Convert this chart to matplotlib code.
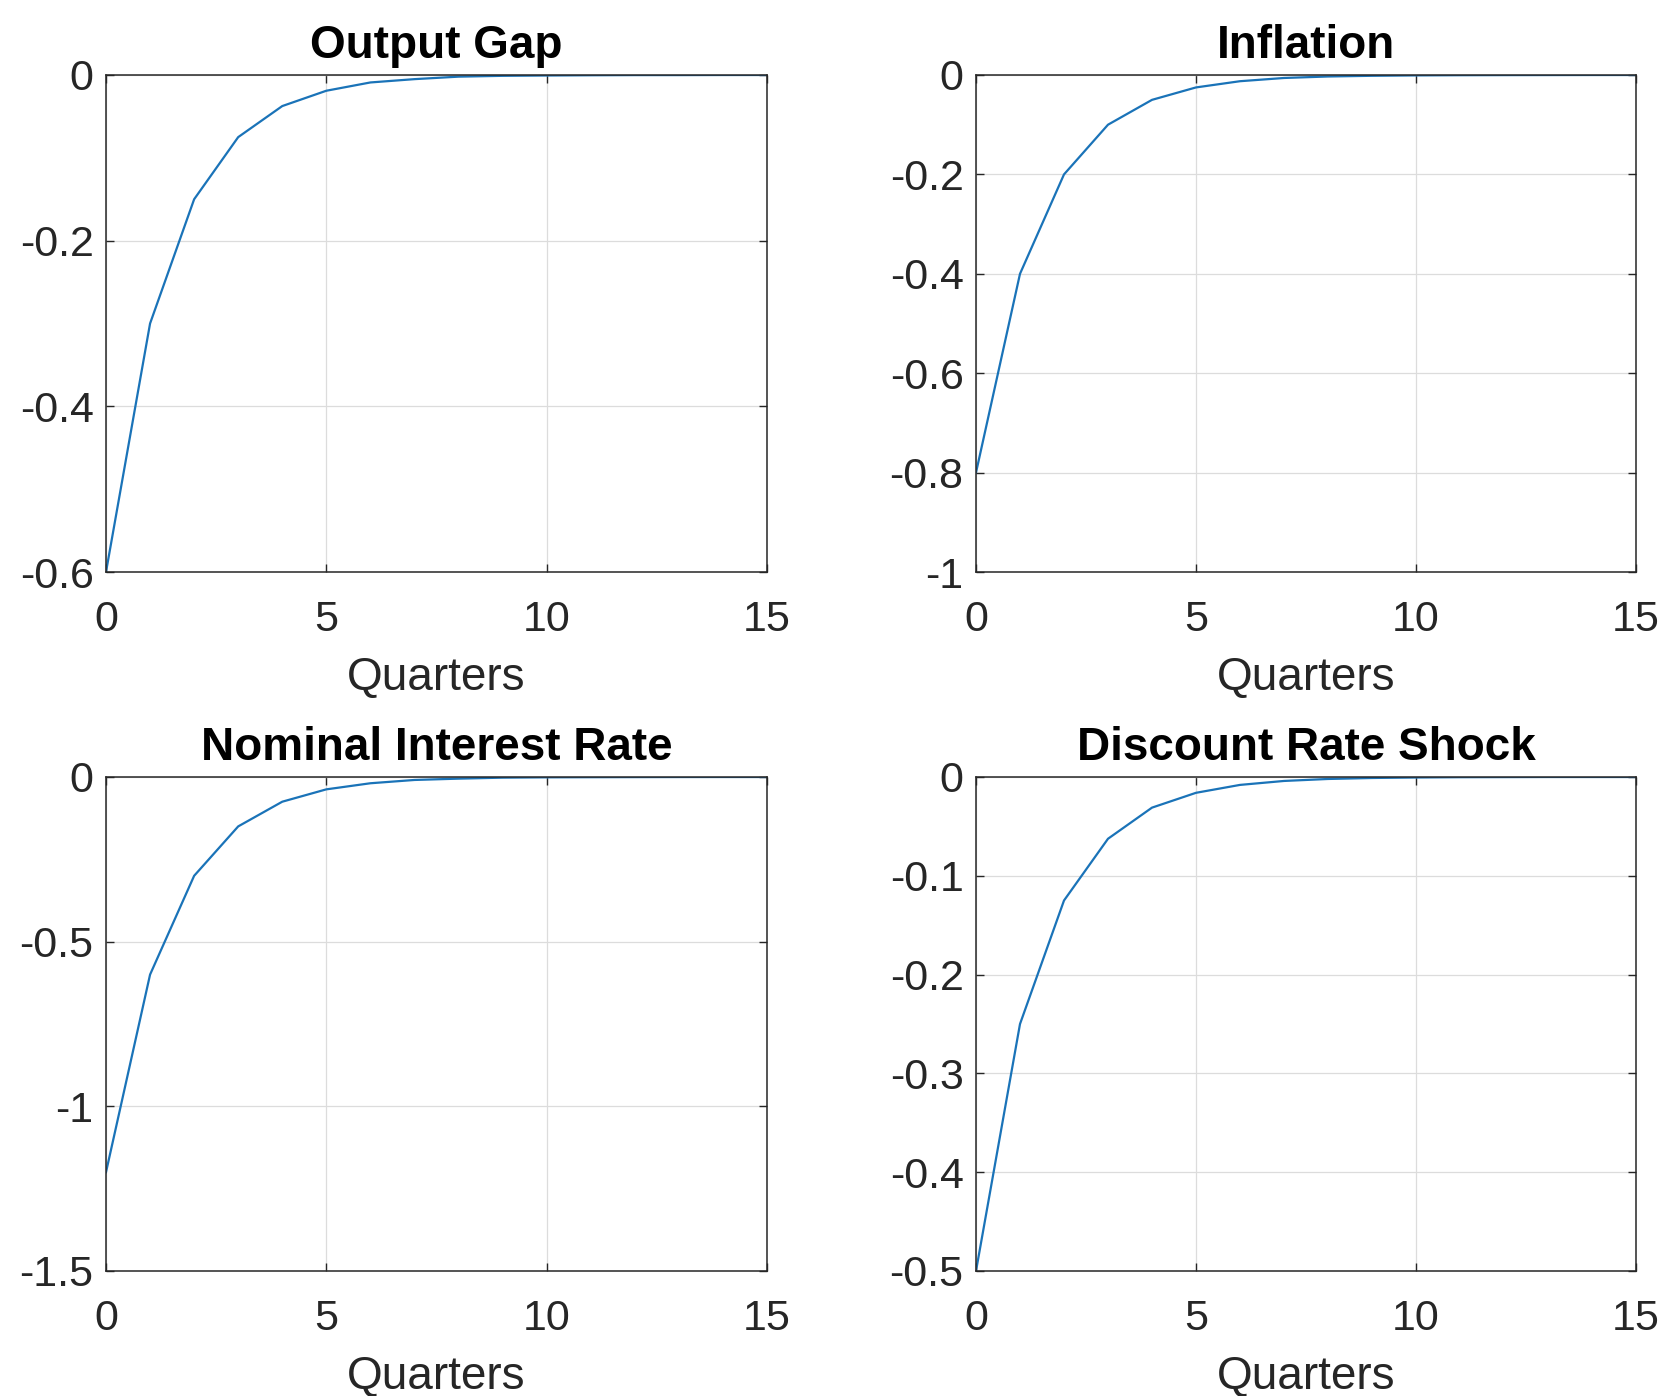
import matplotlib
matplotlib.use("Agg")
import matplotlib.pyplot as plt

plt.rcParams['font.family'] = ['Liberation Sans', 'DejaVu Sans']
plt.rcParams['axes.unicode_minus'] = False

quarters = list(range(16))
output_gap = [-0.6, -0.3, -0.15, -0.075, -0.0375, -0.019, -0.009, -0.005,
              -0.002, -0.001, -0.0006, -0.0003, -0.0001, -0.0001, 0.0, 0.0]
inflation = [-0.8, -0.4, -0.2, -0.1, -0.05, -0.025, -0.0125, -0.006,
             -0.003, -0.0016, -0.0008, -0.0004, -0.0002, -0.0001, 0.0, 0.0]
interest = [-1.2, -0.6, -0.3, -0.15, -0.075, -0.0375, -0.019, -0.009,
            -0.005, -0.002, -0.001, -0.0006, -0.0003, -0.0001, 0.0, 0.0]
discount = [-0.5, -0.25, -0.125, -0.0625, -0.031, -0.016, -0.008, -0.004,
            -0.002, -0.001, -0.0005, -0.0002, -0.0001, 0.0, 0.0, 0.0]

titles = ["Output Gap", "Inflation", "Nominal Interest Rate", "Discount Rate Shock"]
series = [output_gap, inflation, interest, discount]
yticks = [[-0.6, -0.4, -0.2, 0], [-1, -0.8, -0.6, -0.4, -0.2, 0],
          [-1.5, -1, -0.5, 0], [-0.5, -0.4, -0.3, -0.2, -0.1, 0]]
ytick_labels = [["-0.6", "-0.4", "-0.2", "0"],
                ["-1", "-0.8", "-0.6", "-0.4", "-0.2", "0"],
                ["-1.5", "-1", "-0.5", "0"],
                ["-0.5", "-0.4", "-0.3", "-0.2", "-0.1", "0"]]
xticks = [0, 5, 10, 15]
xtick_labels = ["0", "5", "10", "15"]

W, H = 1667, 1396
fig = plt.figure(figsize=(W / 100, H / 100), dpi=100)

boxes = [(106, 75, 767, 572), (976, 75, 1636, 572),
         (106, 777, 767, 1271), (976, 777, 1636, 1271)]

edge = '#262626'
for (x0, y0, x1, y1), t, s, yt, ytl in zip(boxes, titles, series, yticks, ytick_labels):
    ax = fig.add_axes([x0 / W, 1 - y1 / H, (x1 - x0) / W, (y1 - y0) / H])
    ax.plot(quarters, s, color='#1a73b8', lw=1.6)
    ax.set_xlim(0, 15)
    ax.set_ylim(yt[0], yt[-1])
    ax.set_xticks(xticks)
    ax.set_xticklabels(xtick_labels)
    ax.set_yticks(yt)
    ax.set_yticklabels(ytl)
    ax.grid(True, color='#dcdcdc', lw=0.9)
    ax.set_axisbelow(True)
    for sp in ax.spines.values():
        sp.set_color(edge)
        sp.set_linewidth(1.1)
    ax.tick_params(direction='in', length=6, width=1.0, colors=edge,
                   labelsize=31, top=True, right=True)
    ax.tick_params(axis='x', pad=20)
    ax.tick_params(axis='y', pad=9)
    for lab in ax.get_xticklabels() + ax.get_yticklabels():
        lab.set_color('#262626')
    ax.set_title(t, fontsize=33, fontweight='bold', pad=12, color='black')
    ax.set_xlabel("Quarters", fontsize=33, color='#262626', labelpad=12)

fig.savefig("out.png", dpi=100)
